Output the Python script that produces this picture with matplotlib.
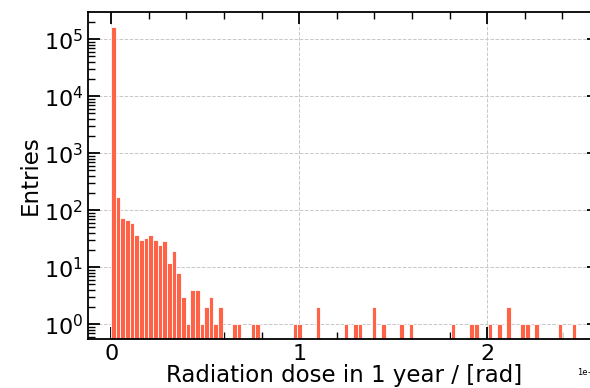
import numpy as np
import matplotlib
matplotlib.use("Agg")
import matplotlib.pyplot as plt
from matplotlib.ticker import MultipleLocator

# Dose histogram: 100 equal bins, counts per bin
dose_range = (0.0, 2.473e-5)
counts = [
    164000, 171, 74, 68, 59, 37, 30, 32, 37, 30,
    25, 29, 12, 19, 8, 3, 1, 4, 4, 1,
    2, 3, 1, 2, 0, 0, 1, 1, 0, 0,
    1, 1, 0, 0, 0, 0, 0, 0, 0, 1,
    1, 0, 0, 0, 2, 0, 0, 0, 0, 0,
    1, 0, 1, 1, 0, 0, 2, 0, 1, 0,
    0, 0, 1, 0, 1, 0, 0, 0, 0, 0,
    0, 0, 0, 1, 0, 0, 0, 1, 1, 0,
    0, 1, 0, 1, 0, 2, 0, 0, 1, 1,
    0, 1, 0, 0, 0, 0, 1, 0, 0, 1,
]
xlabel = "Radiation dose in 1 year / [rad]"
ylabel = "Entries"

edges = np.linspace(dose_range[0], dose_range[1], len(counts) + 1)

fig = plt.figure(figsize=(5.9, 3.88), dpi=100)
ax = fig.add_axes([0.149, 0.126, 0.867, 0.843])

ax.hist(edges[:-1], bins=edges, weights=counts, log=True,
        color="tomato", edgecolor="white", linewidth=0.6, zorder=2)

# 5% margins, linear in x and in log10 for y
span = edges[-1] - edges[0]
ax.set_xlim(edges[0] - 0.05 * span, edges[-1] + 0.05 * span)
pos = np.array([c for c in counts if c > 0], dtype=float)
lo, hi = np.log10(pos.min()), np.log10(pos.max())
ax.set_ylim(10 ** (lo - 0.05 * (hi - lo)), 10 ** (hi + 0.05 * (hi - lo)))

ax.xaxis.set_major_locator(MultipleLocator(1e-5))
ax.xaxis.set_minor_locator(MultipleLocator(0.2e-5))
ax.xaxis.get_offset_text().set_fontsize(6)

ax.grid(True, which="major", linestyle="--", color="#c8c8c8", linewidth=0.7, zorder=0)
ax.set_axisbelow(True)

ax.tick_params(which="both", direction="in", top=True, right=True, labelsize=16)
ax.tick_params(which="major", length=8.5, width=1.3)
ax.tick_params(which="minor", length=5, width=1.0)
for s in ax.spines.values():
    s.set_linewidth(1.3)

ax.set_xlabel(xlabel, fontsize=16.5, labelpad=0)
ax.set_ylabel(ylabel, fontsize=16.5, labelpad=1)

fig.savefig("out.png", dpi=100)
